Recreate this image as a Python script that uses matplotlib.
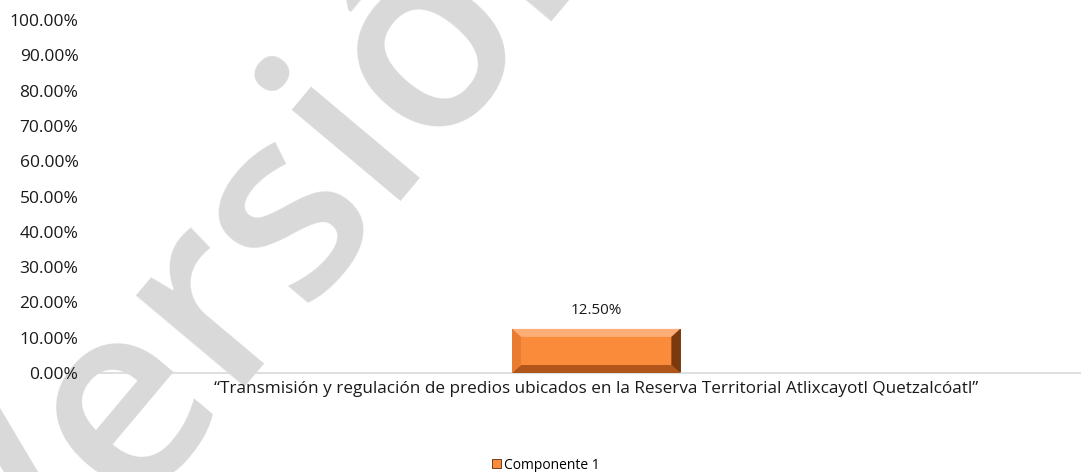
import matplotlib.pyplot as plt
from matplotlib.patches import Polygon
from matplotlib.ticker import FuncFormatter

# Datos
categorias = ["\u201cTransmisión y regulación de predios ubicados en la Reserva Territorial Atlixcayotl Quetzalcóatl\u201d"]
serie_nombre = "Componente 1"
valores = [0.125]
y_ticks = [i / 10 for i in range(11)]

COR_BARRA = "#F98B3A"
COR_TEXTO = "#1a1a1a"
FUENTE = "Open Sans"

plt.rcParams["font.family"] = [FUENTE, "DejaVu Sans"]

fig = plt.figure(figsize=(10.81, 4.72), dpi=100)
ax = fig.add_axes([0.088, 0.2097, 0.927, 0.7479])
ax.set_facecolor("none")

# marca de agua
fig.text(0.265, 0.51, "Versión", fontsize=190, fontweight=600, color="#d9d9d9",
         rotation=50, ha="center", va="center", rotation_mode="anchor", zorder=-1)

x = list(range(len(categorias)))
ancho = 0.168
barras = ax.bar(x, valores, width=ancho, color=COR_BARRA, edgecolor="#5a2a08", linewidth=0.6,
                label=serie_nombre, zorder=2)

ax.set_xlim(-0.5, 0.5)
ax.set_ylim(0, 1.0)

# efecto bisel sobre la barra
fig.canvas.draw()
px_x = (ax.get_xlim()[1] - ax.get_xlim()[0]) / ax.get_window_extent().width
px_y = (ax.get_ylim()[1] - ax.get_ylim()[0]) / ax.get_window_extent().height
for b in barras:
    x0, y0, w, h = b.get_x(), b.get_y(), b.get_width(), b.get_height()
    x1, y1 = x0 + w, y0 + h
    bx, by = 9 * px_x, 8 * px_y
    caras = [
        ([(x0, y1), (x1, y1), (x1 - bx, y1 - by), (x0 + bx, y1 - by)], "#FCAE76"),
        ([(x0, y0), (x1, y0), (x1 - bx, y0 + by), (x0 + bx, y0 + by)], "#B0561A"),
        ([(x0, y0), (x0 + bx, y0 + by), (x0 + bx, y1 - by), (x0, y1)], "#E97C30"),
        ([(x1, y0), (x1 - bx, y0 + by), (x1 - bx, y1 - by), (x1, y1)], "#7A3A0E"),
    ]
    for pts, c in caras:
        ax.add_patch(Polygon(pts, closed=True, facecolor=c, edgecolor="none", zorder=3))
    ax.text(b.get_x() + w / 2, y1 + 0.03, f"{valores[0] * 100:.2f}%", ha="center", va="bottom",
            fontsize=11, color=COR_TEXTO)

ax.set_yticks(y_ticks)
ax.yaxis.set_major_formatter(FuncFormatter(lambda v, _: f"{v * 100:.2f}%"))
ax.set_xticks(x)
ax.set_xticklabels(categorias, fontsize=12.3, color=COR_TEXTO)
ax.tick_params(axis="both", length=0, colors=COR_TEXTO)
ax.tick_params(axis="y", labelsize=12.5, pad=12)
ax.tick_params(axis="x", pad=6)

for lado in ["top", "right", "left"]:
    ax.spines[lado].set_visible(False)
ax.spines["bottom"].set_color("#d9d9d9")
ax.spines["bottom"].set_linewidth(1.2)

fig.legend(loc="lower center", bbox_to_anchor=(0.505, -0.028), frameon=False, fontsize=10,
           handlelength=0.6, handleheight=0.6, handletextpad=0.2)

fig.savefig("out.png", dpi=100)
